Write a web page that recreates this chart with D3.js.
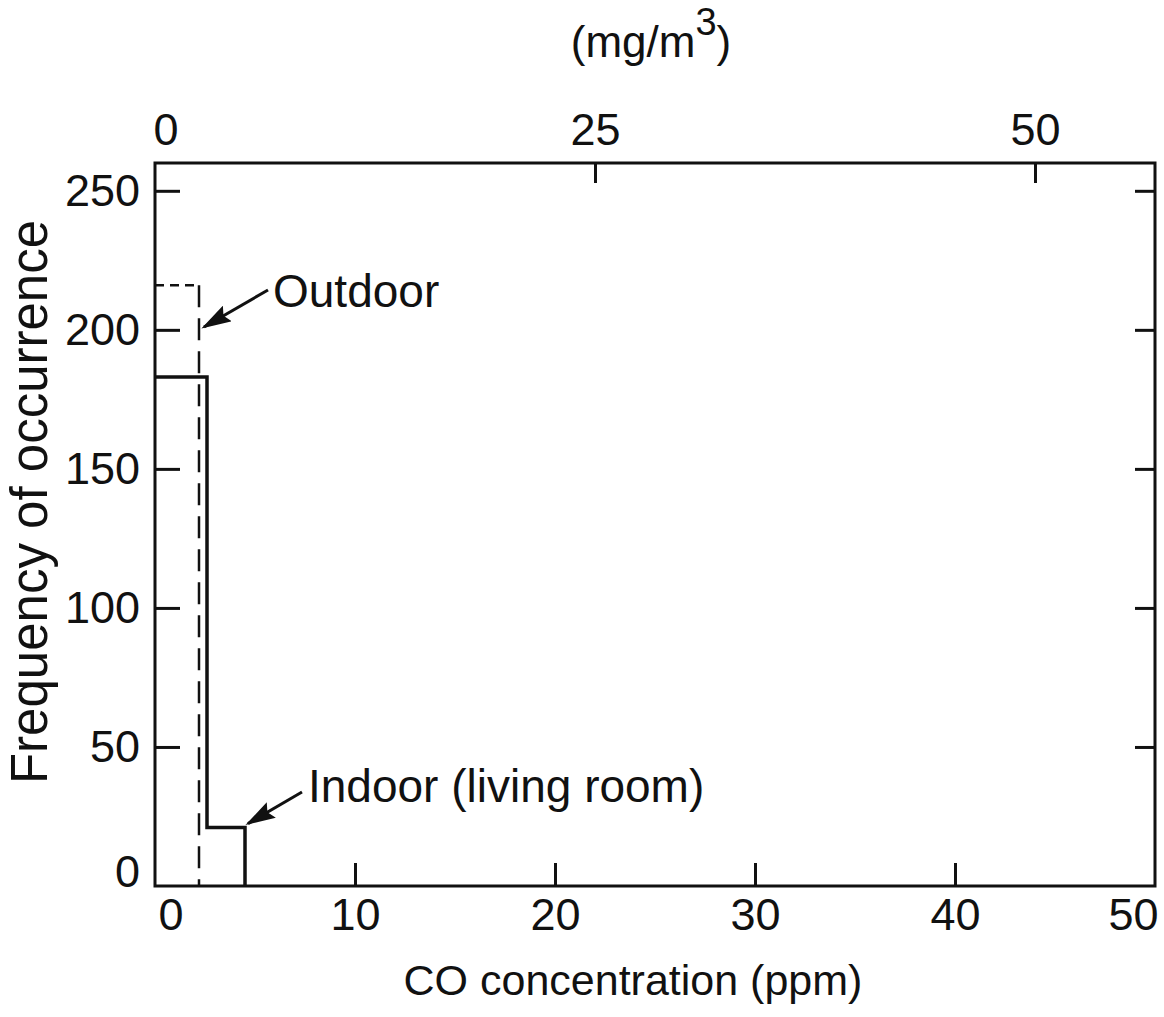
<!DOCTYPE html>
<html>
<head>
<meta charset="utf-8">
<script src="https://cdn.jsdelivr.net/npm/d3@7"></script>
<style>
  html, body { margin: 0; padding: 0; background: #fff; }
  svg { display: block; }
  text { font-family: "Liberation Sans", Arial, sans-serif; fill: #111; }
</style>
</head>
<body>
<svg id="chart" width="1164" height="1017"></svg>
<script>
// Frequency distribution of CO concentration, indoor vs outdoor
const ppmTicks = [0, 10, 20, 30, 40, 50];
const mgTicks = [0, 25, 50];
const freqTicks = [0, 50, 100, 150, 200, 250];

// histogram bins (ppm edges) and counts
const indoorEdges = [0, 2.6, 4.5];
const indoorCounts = [183, 21];
const outdoorEdges = [0, 2.2];
const outdoorCounts = [216];

const mgPerPpm = 50 / 44; // top axis conversion

const svg = d3.select("#chart");
const plotLeft = 155, plotRight = 1155, plotTop = 163, plotBottom = 886;

const x = d3.scaleLinear().domain([0, 50]).range([plotLeft, plotRight]);
const xTop = d3.scaleLinear().domain([0, 50 * mgPerPpm]).range([plotLeft, plotRight]);
const y = d3.scaleLinear().domain([0, 260]).range([plotBottom, plotTop]);

const ink = "#111";

function styleAxis(g, fontSize) {
  g.select(".domain").remove();
  g.selectAll(".tick line").attr("stroke", ink).attr("stroke-width", 3);
  g.selectAll(".tick text")
    .attr("font-size", fontSize)
    .attr("fill", ink)
    .style("font-family", "'Liberation Sans', Arial, sans-serif");
}

// left axis
const gl = svg.append("g").attr("transform", `translate(${plotLeft},0)`)
  .call(d3.axisLeft(y).tickValues(freqTicks).tickSize(-25).tickPadding(15));
styleAxis(gl, 45);
gl.selectAll(".tick line").filter(d => d === 0).remove();
// lift the zero label clear of the bottom axis
gl.selectAll(".tick text").filter(d => d === 0).attr("dy", "0em");

// right axis
const gr = svg.append("g").attr("transform", `translate(${plotRight},0)`)
  .call(d3.axisRight(y).tickValues(freqTicks.filter(d => d > 0)).tickSize(-20).tickFormat(""));
styleAxis(gr, 45);

// bottom axis
const gb = svg.append("g").attr("transform", `translate(0,${plotBottom})`)
  .call(d3.axisBottom(x).tickValues(ppmTicks).tickSize(-23).tickPadding(12));
styleAxis(gb, 45);
gb.selectAll(".tick line").filter(d => d === 0 || d === 50).remove();
gb.selectAll(".tick text").filter(d => d === 0).attr("text-anchor", "start").attr("x", 3);
gb.selectAll(".tick text").filter(d => d === 50).attr("text-anchor", "end").attr("x", 3);

// top axis (mg/m3)
const gt = svg.append("g").attr("transform", `translate(0,${plotTop})`)
  .call(d3.axisTop(xTop).tickValues(mgTicks).tickSize(-20).tickPadding(18));
styleAxis(gt, 45);
gt.selectAll(".tick line").filter(d => d === 0).remove();
gt.selectAll(".tick text").filter(d => d === 0).attr("text-anchor", "start").attr("x", -2);

// frame
svg.append("rect")
  .attr("x", plotLeft).attr("y", plotTop)
  .attr("width", plotRight - plotLeft).attr("height", plotBottom - plotTop)
  .attr("fill", "none").attr("stroke", ink).attr("stroke-width", 3);

// indoor histogram outline (solid)
const indoorPath = d3.path();
indoorPath.moveTo(x(indoorEdges[0]), y(indoorCounts[0]));
indoorCounts.forEach((c, i) => {
  indoorPath.lineTo(x(indoorEdges[i]), y(c));
  indoorPath.lineTo(x(indoorEdges[i + 1]), y(c));
});
indoorPath.lineTo(x(indoorEdges[indoorEdges.length - 1]), y(0));
svg.append("path").attr("d", indoorPath.toString())
  .attr("fill", "none").attr("stroke", ink).attr("stroke-width", 3.5);

// outdoor histogram outline (dashed)
svg.append("line")
  .attr("x1", x(outdoorEdges[0])).attr("x2", x(outdoorEdges[1]))
  .attr("y1", y(outdoorCounts[0])).attr("y2", y(outdoorCounts[0]))
  .attr("stroke", ink).attr("stroke-width", 2.5).attr("stroke-dasharray", "9,6");
svg.append("line")
  .attr("x1", x(outdoorEdges[1])).attr("x2", x(outdoorEdges[1]))
  .attr("y1", y(outdoorCounts[0])).attr("y2", y(0))
  .attr("stroke", ink).attr("stroke-width", 2.5).attr("stroke-dasharray", "22,11");

// arrowhead marker
svg.append("defs").append("marker")
  .attr("id", "arrow").attr("viewBox", "0 0 10 6")
  .attr("refX", 9).attr("refY", 3)
  .attr("markerWidth", 10).attr("markerHeight", 6)
  .attr("markerUnits", "strokeWidth")
  .attr("orient", "auto")
  .append("path").attr("d", "M0,0 L10,3 L0,6 L1.5,3 z").attr("fill", ink);

// Outdoor label
svg.append("line")
  .attr("x1", 268).attr("y1", 290)
  .attr("x2", x(outdoorEdges[1]) + 5).attr("y2", 327)
  .attr("stroke", ink).attr("stroke-width", 3).attr("marker-end", "url(#arrow)");
svg.append("text").attr("x", 273).attr("y", 307).attr("font-size", 46).text("Outdoor");

// Indoor label
svg.append("line")
  .attr("x1", 302).attr("y1", 792)
  .attr("x2", x(indoorEdges[2]) + 3).attr("y2", y(indoorCounts[1]) - 4)
  .attr("stroke", ink).attr("stroke-width", 3).attr("marker-end", "url(#arrow)");
svg.append("text").attr("x", 308).attr("y", 802).attr("font-size", 46).text("Indoor (living room)");

// axis titles
svg.append("text")
  .attr("transform", "translate(47,502) rotate(-90)")
  .attr("text-anchor", "middle").attr("font-size", 51)
  .text("Frequency of occurrence");

svg.append("text")
  .attr("x", 633).attr("y", 995)
  .attr("text-anchor", "middle").attr("font-size", 43)
  .text("CO concentration (ppm)");

const unit = svg.append("text")
  .attr("x", 651).attr("y", 57)
  .attr("text-anchor", "middle").attr("font-size", 44);
unit.append("tspan").text("(mg/m");
unit.append("tspan").attr("font-size", 38).attr("dy", -22).text("3");
unit.append("tspan").attr("dy", 22).text(")");
</script>
</body>
</html>
